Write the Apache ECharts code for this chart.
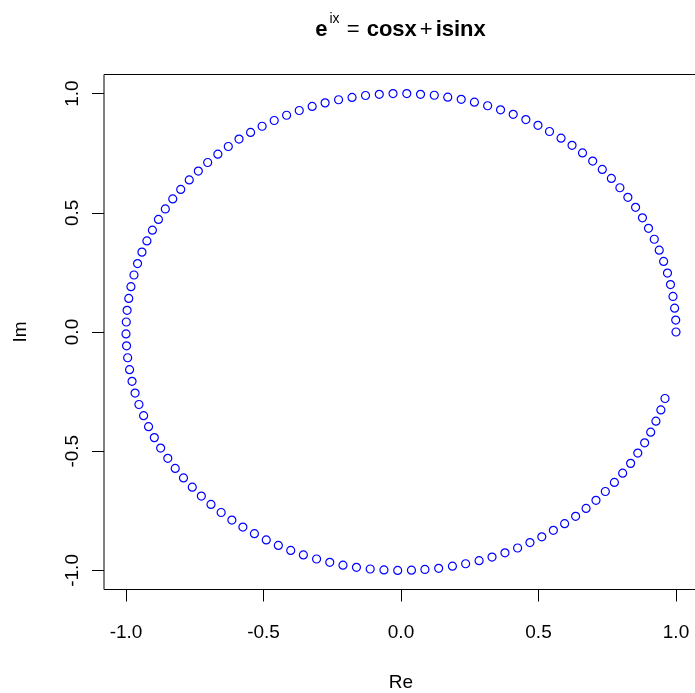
<!DOCTYPE html>
<html>
<head>
<meta charset="utf-8">
<script src="https://cdn.jsdelivr.net/npm/echarts@6/dist/echarts.min.js"></script>
<style>
html,body{margin:0;padding:0;background:#fff;}
#chart{width:695px;height:693px;}
</style>
</head>
<body>
<div id="chart"></div>
<script>
// Real parts (Re) of the plotted points
const reX = [1.000, 0.999, 0.995, 0.989, 0.980, 0.969, 0.955, 0.939, 0.921, 0.900,
 0.878, 0.853, 0.825, 0.796, 0.765, 0.732, 0.697, 0.660, 0.622, 0.582,
 0.540, 0.498, 0.454, 0.408, 0.362, 0.315, 0.267, 0.219, 0.170, 0.121,
 0.071, 0.021, -0.029, -0.079, -0.129, -0.178, -0.227, -0.276, -0.323, -0.370,
 -0.416, -0.461, -0.505, -0.547, -0.589, -0.628, -0.666, -0.703, -0.737, -0.770,
 -0.801, -0.830, -0.857, -0.882, -0.904, -0.924, -0.942, -0.958, -0.971, -0.982,
 -0.990, -0.996, -0.999, -1.000, -0.998, -0.994, -0.987, -0.978, -0.967, -0.953,
 -0.936, -0.918, -0.897, -0.874, -0.848, -0.821, -0.791, -0.759, -0.726, -0.691,
 -0.654, -0.615, -0.575, -0.533, -0.490, -0.446, -0.401, -0.355, -0.307, -0.259,
 -0.211, -0.162, -0.112, -0.062, -0.012, 0.038, 0.087, 0.137, 0.187, 0.235,
 0.284, 0.331, 0.378, 0.424, 0.469, 0.512, 0.554, 0.595, 0.635, 0.673,
 0.709, 0.743, 0.776, 0.806, 0.835, 0.861, 0.886, 0.908, 0.927, 0.945,
 0.960];
// Imaginary parts (Im) of the plotted points
const imY = [0.000, 0.050, 0.100, 0.149, 0.199, 0.247, 0.296, 0.343, 0.389, 0.435,
 0.479, 0.523, 0.565, 0.605, 0.644, 0.682, 0.717, 0.751, 0.783, 0.813,
 0.841, 0.867, 0.891, 0.913, 0.932, 0.949, 0.964, 0.976, 0.985, 0.993,
 0.997, 1.000, 1.000, 0.997, 0.992, 0.984, 0.974, 0.961, 0.946, 0.929,
 0.909, 0.887, 0.863, 0.837, 0.809, 0.778, 0.746, 0.711, 0.675, 0.638,
 0.598, 0.558, 0.516, 0.472, 0.427, 0.382, 0.335, 0.287, 0.239, 0.190,
 0.141, 0.091, 0.042, -0.008, -0.058, -0.108, -0.158, -0.207, -0.256, -0.304,
 -0.351, -0.397, -0.443, -0.487, -0.530, -0.572, -0.612, -0.651, -0.688, -0.723,
 -0.757, -0.789, -0.818, -0.846, -0.872, -0.895, -0.916, -0.935, -0.952, -0.966,
 -0.978, -0.987, -0.994, -0.998, -1.000, -0.999, -0.996, -0.991, -0.982, -0.972,
 -0.959, -0.944, -0.926, -0.906, -0.883, -0.859, -0.832, -0.804, -0.773, -0.740,
 -0.706, -0.669, -0.631, -0.592, -0.551, -0.508, -0.465, -0.420, -0.374, -0.327,
 -0.279];
const xTicks = [-1.0, -0.5, 0.0, 0.5, 1.0];
const yTicks = [-1.0, -0.5, 0.0, 0.5, 1.0];
const xLabel = 'Re';
const yLabel = 'Im';

const FONT = "'Liberation Sans', Arial, sans-serif";
const points = reX.map((x, i) => [x, imY[i]]);

const chart = echarts.init(document.getElementById('chart'), null, {renderer: 'canvas'});
chart.setOption({
  animation: false,
  backgroundColor: '#ffffff',
  title: {
    left: 400.5,
    top: 12,
    padding: 0,
    textAlign: 'center',
    text: '{e|e}{s|ix}{o| = }{b|cosx}{p|+}{b|isinx}',
    textStyle: {
      rich: {
        e: {fontFamily: FONT, fontSize: 22, fontWeight: 'bold', color: '#000', lineHeight: 36},
        s: {fontFamily: FONT, fontSize: 14, fontWeight: 'normal', color: '#000', lineHeight: 14, verticalAlign: 'top', padding: [0, 1, 0, 2]},
        o: {fontFamily: FONT, fontSize: 22, fontWeight: 'normal', color: '#000', lineHeight: 36, padding: [0, 1, 0, 0]},
        p: {fontFamily: FONT, fontSize: 22, fontWeight: 'normal', color: '#000', lineHeight: 36, padding: [0, 3, 0, 3]},
        b: {fontFamily: FONT, fontSize: 22, fontWeight: 'bold', color: '#000', lineHeight: 36}
      }
    }
  },
  grid: {
    left: 104,
    top: 74.5,
    width: 594,
    height: 515,
    outerBoundsMode: 'none',
    containLabel: false,
    show: true,
    borderColor: '#000',
    borderWidth: 1,
    backgroundColor: 'transparent'
  },
  xAxis: {
    type: 'value',
    min: -1.08,
    max: 1.08,
    name: xLabel,
    nameLocation: 'middle',
    nameGap: 84,
    nameTextStyle: {fontFamily: FONT, fontSize: 19, color: '#000'},
    axisLine: {show: false, onZero: false},
    splitLine: {show: false},
    axisTick: {show: true, customValues: xTicks, length: 12, lineStyle: {color: '#000', width: 1}},
    axisLabel: {
      customValues: xTicks,
      margin: 34,
      fontFamily: FONT, fontSize: 19, color: '#000',
      formatter: v => v.toFixed(1)
    }
  },
  yAxis: {
    type: 'value',
    min: -1.08,
    max: 1.08,
    name: yLabel,
    nameLocation: 'middle',
    nameGap: 74,
    nameTextStyle: {fontFamily: FONT, fontSize: 19, color: '#000'},
    axisLine: {show: false, onZero: false},
    splitLine: {show: false},
    axisTick: {show: true, customValues: yTicks, length: 12, lineStyle: {color: '#000', width: 1}},
    axisLabel: {
      customValues: yTicks,
      rotate: 90,
      margin: 22,
      fontFamily: FONT, fontSize: 19, color: '#000',
      formatter: v => v.toFixed(1)
    }
  },
  series: [{
    type: 'scatter',
    data: points,
    symbol: 'circle',
    symbolSize: 8,
    itemStyle: {color: 'rgba(255,255,255,0)', borderColor: '#0000ff', borderWidth: 1.2, opacity: 1},
    emphasis: {disabled: true},
    silent: true
  }]
});
</script>
</body>
</html>
